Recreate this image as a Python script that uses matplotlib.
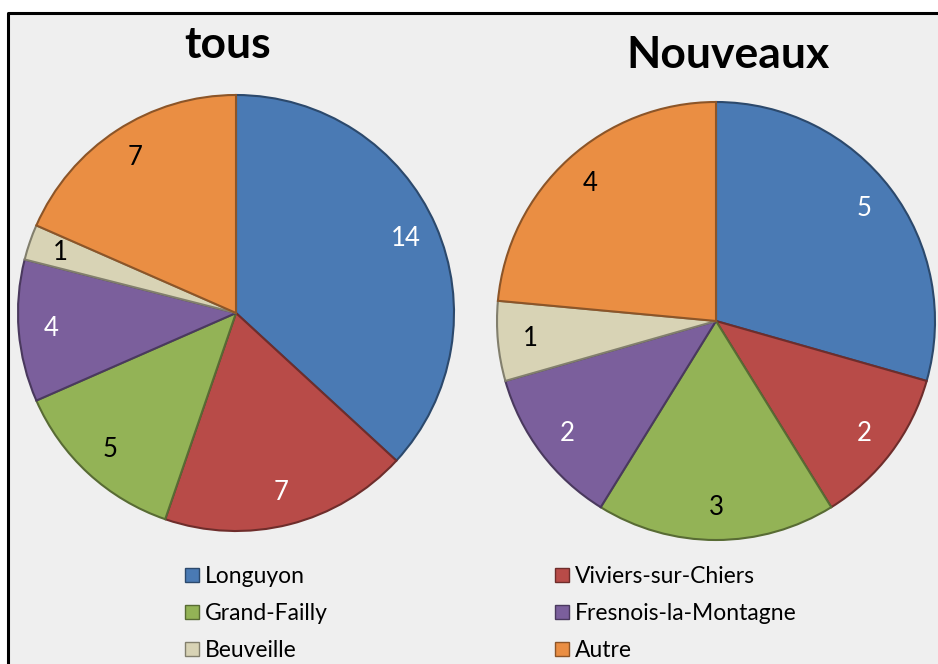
import matplotlib
matplotlib.use("Agg")
import matplotlib.pyplot as plt
from matplotlib.patches import Rectangle, Patch
from matplotlib.lines import Line2D
import matplotlib.colors as mcolors

# ---------- data ----------
communes = ["Longuyon", "Viviers-sur-Chiers", "Grand-Failly",
            "Fresnois-la-Montagne", "Beuveille", "Autre"]
tous = [14, 7, 5, 4, 1, 7]
nouveaux = [5, 2, 3, 2, 1, 4]
titles = ["tous", "Nouveaux"]

colors = ["#4a7ab4", "#b84b48", "#93b356", "#7b5f9c", "#d8d3b5", "#ea8e43"]
label_colors = ["white", "white", "black", "white", "black", "black"]

plt.rcParams["font.family"] = ["Lato", "DejaVu Sans"]

fig = plt.figure(figsize=(9.38, 6.64), dpi=100)
fig.patch.set_facecolor("white")

# grey panel with left/top border
W, H = 938, 664
fig.patches.append(Rectangle((8 / W, 0), 1 - 8 / W, 1 - 13 / H,
                             transform=fig.transFigure, facecolor="#efefef",
                             edgecolor="none", zorder=-10))
fig.lines.append(Line2D([8 / W, 8 / W, 1], [0, 1 - 13 / H, 1 - 13 / H],
                        transform=fig.transFigure, color="black", lw=2.2,
                        zorder=-9))


def darker(c, f=0.7):
    r, g, b = mcolors.to_rgb(c)
    return (r * f, g * f, b * f)


def draw_pie(rect, values, title, title_xy):
    ax = fig.add_axes(rect)
    total = sum(values)
    wedges, _, autotexts = ax.pie(
        values, colors=colors, startangle=90, counterclock=False,
        autopct=lambda p: f"{round(p * total / 100):d}",
        pctdistance=0.85,
        wedgeprops=dict(linewidth=1.5),
        textprops=dict(fontsize=18.5),
    )
    for w, c in zip(wedges, colors):
        w.set_edgecolor(darker(c, 0.6))
    for t, c in zip(autotexts, label_colors):
        t.set_color(c)
    ax.set_xlim(-1, 1)
    ax.set_ylim(-1, 1)
    ax.set_aspect("equal")
    fig.text(title_xy[0] / W, 1 - title_xy[1] / H, title, fontsize=32,
             fontweight="bold", ha="center", va="baseline")
    return wedges


wedges = draw_pie([18 / W, (H - 313 - 218) / H, 436 / W, 436 / H],
                  tous, titles[0], (228, 58))
draw_pie([497 / W, (H - 321 - 219) / H, 438 / W, 438 / H],
         nouveaux, titles[1], (728, 68))

# legend, two columns filled row by row
handles = [Patch(facecolor=c, edgecolor=darker(c, 0.6), linewidth=1.0)
           for c in colors]
leg_kw = dict(frameon=False, fontsize=16.5, handlelength=0.6,
              handleheight=0.6, handletextpad=0.25, labelspacing=0.7,
              borderpad=0, borderaxespad=0, loc="upper left")
leg1 = fig.legend(handles[0::2], communes[0::2],
                  bbox_to_anchor=(185 / W, 1 - 566 / H), **leg_kw)
leg2 = fig.legend(handles[1::2], communes[1::2],
                  bbox_to_anchor=(555 / W, 1 - 566 / H), **leg_kw)

fig.savefig("out.png", dpi=100, facecolor=fig.get_facecolor())
